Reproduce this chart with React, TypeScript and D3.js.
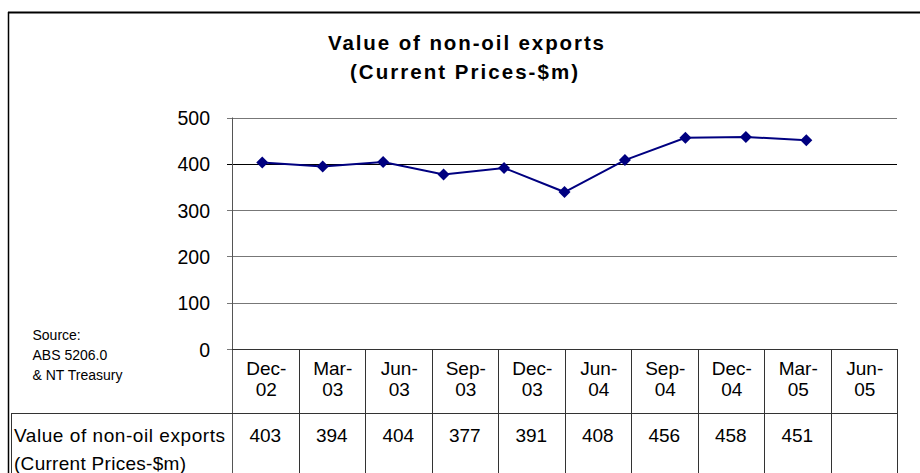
import React from "react";
import * as d3 from "d3";

const title = ["Value of non-oil exports", "(Current Prices-$m)"];
const sourceLines = ["Source:", "ABS 5206.0", "& NT Treasury"];
const yTicks = [0, 100, 200, 300, 400, 500];
// plotted line series (11 slots, last empty)
const lineValues: (number | null)[] = [403, 394, 404, 377, 391, 339, 408, 456, 458, 451, null];
// data table
const tableCategories = ["Dec-02", "Mar-03", "Jun-03", "Sep-03", "Dec-03", "Jun-04", "Sep-04", "Dec-04", "Mar-05", "Jun-05"];
const tableValues: (number | null)[] = [403, 394, 404, 377, 391, 408, 456, 458, 451, null];
const seriesLabel = ["Value of non-oil exports", "(Current Prices-$m)"];

const W = 920;
const H = 473;
const FONT = "'Liberation Sans', Arial, sans-serif";

export default function App() {
  const x0 = 232;
  const x1 = 897;
  const y = d3.scaleLinear().domain([0, 500]).range([349, 117.5]);
  const xLine = d3
    .scaleBand<number>()
    .domain(lineValues.map((_, i) => i))
    .range([x0, x1]);
  const xTable = d3
    .scaleBand<string>()
    .domain(tableCategories)
    .range([x0, x1]);

  const pts = lineValues
    .map((v, i) => ({ v, i }))
    .filter((d) => d.v !== null) as { v: number; i: number }[];
  const line = d3
    .line<{ v: number; i: number }>()
    .x((d) => xLine(d.i)! + xLine.bandwidth() / 2)
    .y((d) => y(d.v));
  const diamond = d3.symbol().type(d3.symbolSquare).size(72)();

  const headerTop = 349;
  const rowTop = 413;
  const bottom = 490;

  return (
    <svg
      width={W}
      height={H}
      style={{ position: "absolute", left: 0, top: 0, background: "#fff" }}
      fontFamily={FONT}
    >
      <rect x={0} y={0} width={W} height={H} fill="#fff" />
      {/* outer frame */}
      <line x1={8.5} x2={8.5} y1={12} y2={bottom} stroke="#000" strokeWidth={1.5} />
      <line x1={8} x2={W} y1={12.5} y2={12.5} stroke="#000" strokeWidth={2} />

      {/* title */}
      <text x={466} y={49.5} textAnchor="middle" fontWeight="bold" fontSize={20.5} textLength={276} lengthAdjust="spacing">
        {title[0]}
      </text>
      <text x={464} y={79} textAnchor="middle" fontWeight="bold" fontSize={20.5} textLength={228} lengthAdjust="spacing">
        {title[1]}
      </text>

      {/* gridlines + ticks */}
      {yTicks.map((t) => (
        <g key={t}>
          <line
            x1={227}
            x2={t === 0 ? x0 : x1}
            y1={Math.round(y(t)) + 0.5}
            y2={Math.round(y(t)) + 0.5}
            stroke={t === 400 ? "#000" : "#777"}
            strokeWidth={1}
          />
          <text x={210} y={y(t) + 7.5} textAnchor="end" fontSize={19.5} fill="#000">
            {t}
          </text>
        </g>
      ))}
      {/* y axis */}
      <line x1={x0 + 0.5} x2={x0 + 0.5} y1={y(500)} y2={bottom} stroke="#555" strokeWidth={1} />

      {/* source */}
      {sourceLines.map((s, i) => (
        <text key={s} x={32.5} y={340 + i * 20} fontSize={14} fill="#000">
          {s}
        </text>
      ))}

      {/* table */}
      <line x1={x0} x2={x1} y1={headerTop + 0.5} y2={headerTop + 0.5} stroke="#333" />
      <line x1={11.5} x2={x1} y1={rowTop + 0.5} y2={rowTop + 0.5} stroke="#333" />
      <line x1={11.5} x2={11.5} y1={rowTop} y2={bottom} stroke="#333" />
      {tableCategories.map((c, i) => {
        const cx = xTable(c)! + xTable.bandwidth() / 2;
        const parts = c.split("-");
        return (
          <g key={c}>
            <line
              x1={Math.round(xTable(c)! + xTable.bandwidth()) + 0.5}
              x2={Math.round(xTable(c)! + xTable.bandwidth()) + 0.5}
              y1={headerTop}
              y2={bottom}
              stroke="#333"
            />
            <text x={cx + 1} y={374.5} textAnchor="middle" fontSize={19}>
              {parts[0] + "-"}
            </text>
            <text x={cx + 1} y={395.5} textAnchor="middle" fontSize={19}>
              {parts[1]}
            </text>
            {tableValues[i] !== null && (
              <text x={cx} y={441.5} textAnchor="middle" fontSize={19}>
                {tableValues[i]}
              </text>
            )}
          </g>
        );
      })}
      <text x={14} y={441.5} fontSize={19} textLength={211} lengthAdjust="spacing">
        {seriesLabel[0]}
      </text>
      <text x={14} y={469.5} fontSize={19} textLength={172} lengthAdjust="spacing">
        {seriesLabel[1]}
      </text>

      {/* series */}
      <path d={line(pts) || ""} fill="none" stroke="#000080" strokeWidth={2} />
      {pts.map((d) => (
        <path
          key={d.i}
          d={diamond || ""}
          transform={`translate(${xLine(d.i)! + xLine.bandwidth() / 2},${y(d.v)}) rotate(45)`}
          fill="#000080"
        />
      ))}
    </svg>
  );
}
